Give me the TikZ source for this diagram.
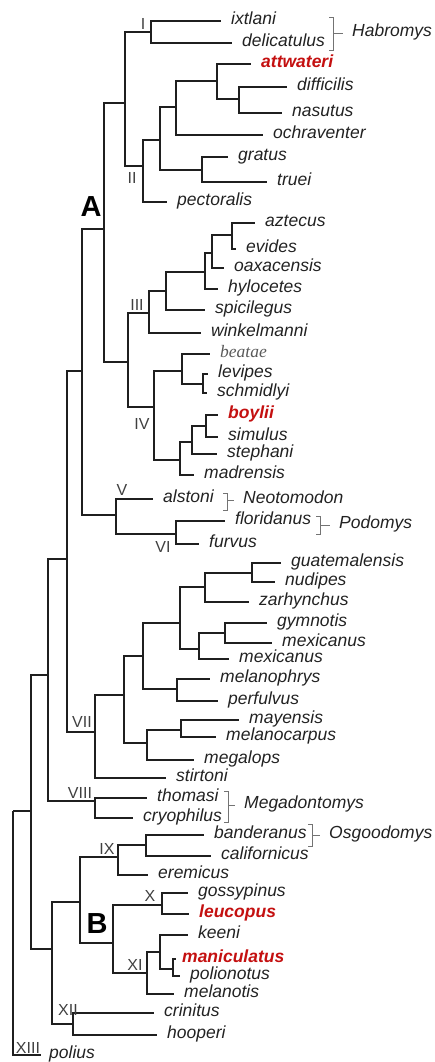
\documentclass[tikz,border=0pt]{standalone}
\usepackage{fontspec}
\setmainfont{Liberation Sans}
\newfontfamily\serifit{Liberation Serif}
\usetikzlibrary{positioning, calc}

\definecolor{inkgray}{HTML}{222222}
\definecolor{hitred}{HTML}{C41010}

\begin{document}
\begin{tikzpicture}[
    x=1pt, y=-1pt,
    br/.style={line width=1.2pt, draw=black!88},
    leaf/.style={
        anchor=west, inner xsep=10pt, inner ysep=0pt,
        text height=11pt, text depth=3.5pt, text=inkgray,
        font=\fontsize{17.5}{20}\selectfont\itshape
    },
    hit/.style={leaf, text=hitred, font=\fontsize{17.5}{20}\selectfont\bfseries\itshape},
    clade/.style={inner sep=0pt, text=black!75, font=\fontsize{16}{16}\selectfont},
    genus/.style={leaf, inner xsep=9pt},
    brak/.style={line width=0.8pt, draw=black!55},
    group/.style={inner sep=0pt, font=\fontsize{29}{30}\selectfont\bfseries}
]
\useasboundingbox (0,0) rectangle (435,1062);

% internal nodes
\coordinate (nXIII) at (13,811);
\coordinate (n31)   at (31,811);
\coordinate (n48)   at (48,675);
\coordinate (n67)   at (67,559);
\coordinate (n82)   at (82,371);
\coordinate (nA)    at (104,229);
\coordinate (n125)  at (125,103);
\coordinate (nI)    at (151,32);
\coordinate (nII)   at (143,166);
\coordinate (n160)  at (160,140);
\coordinate (n176)  at (176,107);
\coordinate (n217)  at (217,81);
\coordinate (n239)  at (239,99);
\coordinate (n202)  at (202,170);
\coordinate (n128)  at (128,362);
\coordinate (nIII)  at (149,313);
\coordinate (n166)  at (166,291);
\coordinate (n205)  at (205,272);
\coordinate (n212)  at (212,253);
\coordinate (n232)  at (232,235);
\coordinate (nIV)   at (154,407);
\coordinate (n182)  at (182,371);
\coordinate (n203)  at (203,384);
\coordinate (n180)  at (180,460);
\coordinate (n192)  at (192,442);
\coordinate (n206)  at (206,426);
\coordinate (nV)    at (116,515);
\coordinate (nVI)   at (176,534);
\coordinate (nVII)  at (95,732);
\coordinate (n124)  at (124,695);
\coordinate (n143)  at (143,656);
\coordinate (n180b) at (180,623);
\coordinate (n205b) at (205,587);
\coordinate (n252)  at (252,573);
\coordinate (n199)  at (199,649);
\coordinate (n225)  at (225,633);
\coordinate (n177)  at (177,689);
\coordinate (n147)  at (147,743);
\coordinate (n181)  at (181,730);
\coordinate (nVIII) at (95,801);
\coordinate (n52)   at (52,949);
\coordinate (n80)   at (80,902);
\coordinate (nIX)   at (118,857);
\coordinate (n146)  at (146,845);
\coordinate (n113)  at (113,943);
\coordinate (nX)    at (162,905);
\coordinate (nXI)   at (147,973);
\coordinate (n160b) at (160,952);
\coordinate (n173)  at (173,969);
\coordinate (nXII)  at (73,1024);

% leaves
\node[leaf] (ixtlani)      at (221,21)   {ixtlani};
\node[leaf] (delicatulus)  at (232,43)   {delicatulus};
\node[hit]  (attwateri)    at (251,64)   {attwateri};
\node[leaf] (difficilis)   at (287,87)   {difficilis};
\node[leaf] (nasutus)      at (282,113)  {nasutus};
\node[leaf] (ochraventer)  at (263,135)  {ochraventer};
\node[leaf] (gratus)       at (228,157)  {gratus};
\node[leaf] (truei)        at (267,182)  {truei};
\node[leaf] (pectoralis)   at (167,202)  {pectoralis};
\node[leaf] (aztecus)      at (255,223)  {aztecus};
\node[leaf] (evides)       at (236,249)  {evides};
\node[leaf] (oaxacensis)   at (224,268)  {oaxacensis};
\node[leaf] (hylocetes)    at (218,289)  {hylocetes};
\node[leaf] (spicilegus)   at (205,310)  {spicilegus};
\node[leaf] (winkelmanni)  at (201,333)  {winkelmanni};
\node[leaf, text=black!65, font=\fontsize{17.5}{20}\selectfont\serifit\itshape]
            (beatae)       at (210,354)  {beatae};
\node[leaf] (levipes)      at (208,374)  {levipes};
\node[leaf] (schmidlyi)    at (207,393)  {schmidlyi};
\node[hit]  (boylii)       at (218,415)  {boylii};
\node[leaf] (simulus)      at (218,437)  {simulus};
\node[leaf] (stephani)     at (217,454)  {stephani};
\node[leaf] (madrensis)    at (194,475)  {madrensis};
\node[leaf] (alstoni)      at (153,499)  {alstoni};
\node[leaf] (floridanus)   at (225,521)  {floridanus};
\node[leaf] (furvus)       at (199,544)  {furvus};
\node[leaf] (guatemalensis) at (281,563) {guatemalensis};
\node[leaf] (nudipes)      at (275,582)  {nudipes};
\node[leaf] (zarhynchus)   at (249,602)  {zarhynchus};
\node[leaf] (gymnotis)     at (267,623)  {gymnotis};
\node[leaf] (mexicanusA)   at (272,643)  {mexicanus};
\node[leaf] (mexicanusB)   at (229,659)  {mexicanus};
\node[leaf] (melanophrys)  at (210,679)  {melanophrys};
\node[leaf] (perfulvus)    at (218,701)  {perfulvus};
\node[leaf] (mayensis)     at (239,720)  {mayensis};
\node[leaf] (melanocarpus) at (216,737)  {melanocarpus};
\node[leaf] (megalops)     at (194,760)  {megalops};
\node[leaf] (stirtoni)     at (166,778)  {stirtoni};
\node[leaf] (thomasi)      at (147,798)  {thomasi};
\node[leaf] (cryophilus)   at (133,818)  {cryophilus};
\node[leaf] (banderanus)   at (204,835)  {banderanus};
\node[leaf] (californicus) at (211,856)  {californicus};
\node[leaf] (eremicus)     at (148,875)  {eremicus};
\node[leaf] (gossypinus)   at (188,893)  {gossypinus};
\node[hit]  (leucopus)     at (189,914)  {leucopus};
\node[leaf] (keeni)        at (188,935)  {keeni};
\node[hit, inner xsep=6pt] (maniculatus) at (176,959) {maniculatus};
\node[leaf] (polionotus)   at (180,976)  {polionotus};
\node[leaf] (melanotis)    at (174,994)  {melanotis};
\node[leaf] (crinitus)     at (154,1013) {crinitus};
\node[leaf] (hooperi)      at (157,1035) {hooperi};
\node[leaf, inner xsep=8pt] (polius) at (41,1055) {polius};

% branches
\foreach \p/\c in {
    nXIII/n31, nXIII/polius.west, n31/n48, n31/n52, n48/n67, n48/nVIII,
    n67/n82, n67/nVII, n82/nA, n82/nV, nA/n125, nA/n128,
    n125/nI, n125/nII, nI/ixtlani.west, nI/delicatulus.west,
    nII/n160, nII/pectoralis.west, n160/n176, n160/n202,
    n176/n217, n176/ochraventer.west, n217/attwateri.west, n217/n239,
    n239/difficilis.west, n239/nasutus.west, n202/gratus.west, n202/truei.west,
    n128/nIII, n128/nIV, nIII/n166, nIII/winkelmanni.west,
    n166/n205, n166/spicilegus.west, n205/n212, n205/hylocetes.west,
    n212/n232, n212/oaxacensis.west, n232/aztecus.west, n232/evides.west,
    nIV/n182, nIV/n180, n182/beatae.west, n182/n203,
    n203/levipes.west, n203/schmidlyi.west, n180/n192, n180/madrensis.west,
    n192/n206, n192/stephani.west, n206/boylii.west, n206/simulus.west,
    nV/alstoni.west, nV/nVI, nVI/floridanus.west, nVI/furvus.west,
    nVII/n124, nVII/stirtoni.west, n124/n143, n124/n147,
    n143/n180b, n143/n177, n180b/n205b, n180b/n199,
    n205b/n252, n205b/zarhynchus.west, n252/guatemalensis.west, n252/nudipes.west,
    n199/n225, n199/mexicanusB.west, n225/gymnotis.west, n225/mexicanusA.west,
    n177/melanophrys.west, n177/perfulvus.west, n147/n181, n147/megalops.west,
    n181/mayensis.west, n181/melanocarpus.west,
    nVIII/thomasi.west, nVIII/cryophilus.west,
    n52/n80, n52/nXII, n80/nIX, n80/n113, nIX/n146, nIX/eremicus.west,
    n146/banderanus.west, n146/californicus.west, n113/nX, n113/nXI,
    nX/gossypinus.west, nX/leucopus.west, nXI/n160b, nXI/melanotis.west,
    n160b/keeni.west, n160b/n173, n173/maniculatus.west, n173/polionotus.west,
    nXII/crinitus.west, nXII/hooperi.west}
    \draw[br] (\p) |- (\c);

% clade numbers
\node[clade] (lblI)    at (143,24)   {I};
\node[clade] (lblII)   at (132,178)  {II};
\node[clade] (lblIII)  at (137,305)  {III};
\node[clade] (lblIV)   at (142,424)  {IV};
\node[clade] (lblV)    at (122,490)  {V};
\node[clade] (lblVI)   at (163,547)  {VI};
\node[clade] (lblVII)  at (82,722)   {VII};
\node[clade] (lblVIII) at (80,793)   {VIII};
\node[clade] (lblIX)   at (107,849)  {IX};
\node[clade] (lblX)    at (150,896)  {X};
\node[clade] (lblXI)   at (135,965)  {XI};
\node[clade] (lblXII)  at (68,1010)  {XII};
\node[clade] (lblXIII) at (28,1048)  {XIII};

\node[group] (grpA) at (91,207) {A};
\node[group] (grpB) at (97,924) {B};

% genera
\node[genus] (habromys)     at (343,33)  {Habromys};
\node[genus] (neotomodon)   at (234,500) {Neotomodon};
\node[genus] (podomys)      at (330,525) {Podomys};
\node[genus] (megadontomys) at (235,805) {Megadontomys};
\node[genus] (osgoodomys)   at (320,835) {Osgoodomys};

\coordinate (habT) at (333,17);  \coordinate (habB) at (333,50);
\coordinate (neoT) at (227,493); \coordinate (neoB) at (227,510);
\coordinate (podT) at (320,516); \coordinate (podB) at (320,534);
\coordinate (megT) at (228,791); \coordinate (megB) at (228,822);
\coordinate (osgT) at (312,824); \coordinate (osgB) at (312,846);

\foreach \t/\b/\g in {habT/habB/habromys, neoT/neoB/neotomodon,
    podT/podB/podomys, megT/megB/megadontomys, osgT/osgB/osgoodomys} {
    \draw[brak] ([xshift=-4pt]\t) -- (\t) -- (\b) -- ([xshift=-4pt]\b);
    \draw[brak] (\t |- \g.west) -- (\g.west);
}

\end{tikzpicture}
\end{document}
